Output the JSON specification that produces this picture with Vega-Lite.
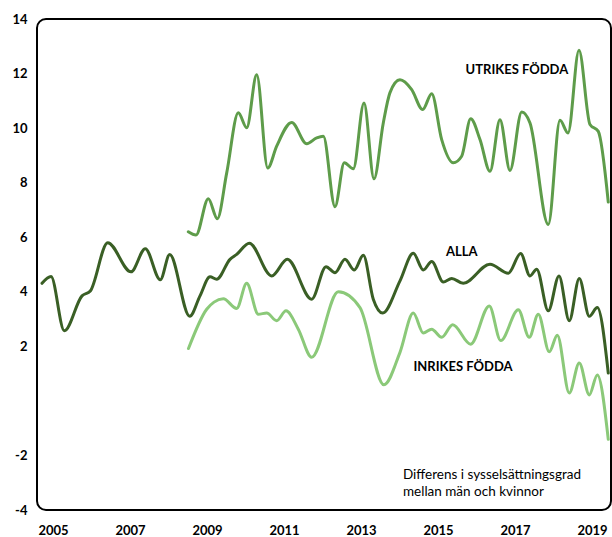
{
  "$schema": "https://vega.github.io/schema/vega-lite/v6.json",
  "autosize": {"type": "none"},
  "width": 574,
  "height": 491,
  "padding": {"left": 37, "top": 19, "right": 1, "bottom": 27},
  "config": {
    "view": {"stroke": "#000000", "strokeWidth": 2, "cornerRadius": 9},
    "font": "Lato",
    "axis": {"grid": false, "ticks": false, "domain": false, "labelFont": "Lato", "labelFontWeight": "bold", "labelFontSize": 13, "labelColor": "#000000", "title": null}
  },
  "datasets": {
    "series": [
      {"serie": "ALLA", "t": 2004.714, "v": 4.31},
      {"serie": "ALLA", "t": 2004.948, "v": 4.56},
      {"serie": "ALLA", "t": 2005.294, "v": 2.57},
      {"serie": "ALLA", "t": 2005.753, "v": 3.85},
      {"serie": "ALLA", "t": 2005.969, "v": 4.03},
      {"serie": "ALLA", "t": 2006.421, "v": 5.80},
      {"serie": "ALLA", "t": 2007.026, "v": 4.73},
      {"serie": "ALLA", "t": 2007.397, "v": 5.58},
      {"serie": "ALLA", "t": 2007.787, "v": 4.44},
      {"serie": "ALLA", "t": 2008.031, "v": 5.37},
      {"serie": "ALLA", "t": 2008.551, "v": 3.10},
      {"serie": "ALLA", "t": 2008.818, "v": 3.85},
      {"serie": "ALLA", "t": 2009.078, "v": 4.55},
      {"serie": "ALLA", "t": 2009.252, "v": 4.46},
      {"serie": "ALLA", "t": 2009.597, "v": 5.19},
      {"serie": "ALLA", "t": 2009.771, "v": 5.37},
      {"serie": "ALLA", "t": 2010.099, "v": 5.78},
      {"serie": "ALLA", "t": 2010.681, "v": 4.58},
      {"serie": "ALLA", "t": 2011.086, "v": 5.19},
      {"serie": "ALLA", "t": 2011.719, "v": 3.73},
      {"serie": "ALLA", "t": 2012.091, "v": 4.92},
      {"serie": "ALLA", "t": 2012.325, "v": 4.70},
      {"serie": "ALLA", "t": 2012.584, "v": 5.19},
      {"serie": "ALLA", "t": 2012.826, "v": 4.80},
      {"serie": "ALLA", "t": 2013.060, "v": 5.34},
      {"serie": "ALLA", "t": 2013.319, "v": 3.73},
      {"serie": "ALLA", "t": 2013.564, "v": 3.22},
      {"serie": "ALLA", "t": 2014.013, "v": 4.40},
      {"serie": "ALLA", "t": 2014.358, "v": 5.41},
      {"serie": "ALLA", "t": 2014.618, "v": 4.80},
      {"serie": "ALLA", "t": 2014.836, "v": 5.11},
      {"serie": "ALLA", "t": 2015.138, "v": 4.36},
      {"serie": "ALLA", "t": 2015.356, "v": 4.49},
      {"serie": "ALLA", "t": 2015.657, "v": 4.31},
      {"serie": "ALLA", "t": 2016.351, "v": 5.01},
      {"serie": "ALLA", "t": 2016.826, "v": 4.68},
      {"serie": "ALLA", "t": 2017.148, "v": 5.40},
      {"serie": "ALLA", "t": 2017.390, "v": 4.58},
      {"serie": "ALLA", "t": 2017.564, "v": 4.83},
      {"serie": "ALLA", "t": 2017.865, "v": 3.30},
      {"serie": "ALLA", "t": 2018.143, "v": 4.58},
      {"serie": "ALLA", "t": 2018.410, "v": 2.94},
      {"serie": "ALLA", "t": 2018.670, "v": 4.49},
      {"serie": "ALLA", "t": 2018.930, "v": 3.10},
      {"serie": "ALLA", "t": 2019.138, "v": 3.42},
      {"serie": "ALLA", "t": 2019.423, "v": 1.02},

      {"serie": "INRIKES", "t": 2008.519, "v": 1.92},
      {"serie": "INRIKES", "t": 2008.992, "v": 3.36},
      {"serie": "INRIKES", "t": 2009.182, "v": 3.62},
      {"serie": "INRIKES", "t": 2009.423, "v": 3.74},
      {"serie": "INRIKES", "t": 2009.771, "v": 3.39},
      {"serie": "INRIKES", "t": 2010.031, "v": 4.31},
      {"serie": "INRIKES", "t": 2010.332, "v": 3.18},
      {"serie": "INRIKES", "t": 2010.551, "v": 3.22},
      {"serie": "INRIKES", "t": 2010.810, "v": 2.94},
      {"serie": "INRIKES", "t": 2011.052, "v": 3.30},
      {"serie": "INRIKES", "t": 2011.371, "v": 2.63},
      {"serie": "INRIKES", "t": 2011.719, "v": 1.60},
      {"serie": "INRIKES", "t": 2012.410, "v": 4.00},
      {"serie": "INRIKES", "t": 2012.974, "v": 3.42},
      {"serie": "INRIKES", "t": 2013.597, "v": 0.59},
      {"serie": "INRIKES", "t": 2014.013, "v": 1.78},
      {"serie": "INRIKES", "t": 2014.358, "v": 3.22},
      {"serie": "INRIKES", "t": 2014.618, "v": 2.49},
      {"serie": "INRIKES", "t": 2014.836, "v": 2.63},
      {"serie": "INRIKES", "t": 2015.096, "v": 2.33},
      {"serie": "INRIKES", "t": 2015.382, "v": 2.79},
      {"serie": "INRIKES", "t": 2015.849, "v": 2.08},
      {"serie": "INRIKES", "t": 2016.332, "v": 3.48},
      {"serie": "INRIKES", "t": 2016.629, "v": 2.21},
      {"serie": "INRIKES", "t": 2017.086, "v": 3.34},
      {"serie": "INRIKES", "t": 2017.371, "v": 2.33},
      {"serie": "INRIKES", "t": 2017.605, "v": 3.18},
      {"serie": "INRIKES", "t": 2017.891, "v": 1.80},
      {"serie": "INRIKES", "t": 2018.099, "v": 2.41},
      {"serie": "INRIKES", "t": 2018.410, "v": 0.29},
      {"serie": "INRIKES", "t": 2018.670, "v": 1.39},
      {"serie": "INRIKES", "t": 2018.930, "v": 0.22},
      {"serie": "INRIKES", "t": 2019.138, "v": 0.95},
      {"serie": "INRIKES", "t": 2019.423, "v": -1.41},

      {"serie": "UTRIKES", "t": 2008.514, "v": 6.20},
      {"serie": "UTRIKES", "t": 2008.714, "v": 6.08},
      {"serie": "UTRIKES", "t": 2009.034, "v": 7.41},
      {"serie": "UTRIKES", "t": 2009.268, "v": 6.68},
      {"serie": "UTRIKES", "t": 2009.512, "v": 8.36},
      {"serie": "UTRIKES", "t": 2009.813, "v": 10.56},
      {"serie": "UTRIKES", "t": 2010.031, "v": 10.01},
      {"serie": "UTRIKES", "t": 2010.291, "v": 11.96},
      {"serie": "UTRIKES", "t": 2010.577, "v": 8.54},
      {"serie": "UTRIKES", "t": 2010.810, "v": 9.34},
      {"serie": "UTRIKES", "t": 2011.200, "v": 10.21},
      {"serie": "UTRIKES", "t": 2011.590, "v": 9.43},
      {"serie": "UTRIKES", "t": 2011.849, "v": 9.64},
      {"serie": "UTRIKES", "t": 2012.021, "v": 9.70},
      {"serie": "UTRIKES", "t": 2012.325, "v": 7.12},
      {"serie": "UTRIKES", "t": 2012.566, "v": 8.73},
      {"serie": "UTRIKES", "t": 2012.800, "v": 8.51},
      {"serie": "UTRIKES", "t": 2013.078, "v": 10.92},
      {"serie": "UTRIKES", "t": 2013.338, "v": 8.14},
      {"serie": "UTRIKES", "t": 2013.579, "v": 10.19},
      {"serie": "UTRIKES", "t": 2013.753, "v": 11.30},
      {"serie": "UTRIKES", "t": 2014.013, "v": 11.77},
      {"serie": "UTRIKES", "t": 2014.317, "v": 11.41},
      {"serie": "UTRIKES", "t": 2014.603, "v": 10.68},
      {"serie": "UTRIKES", "t": 2014.836, "v": 11.26},
      {"serie": "UTRIKES", "t": 2015.096, "v": 9.58},
      {"serie": "UTRIKES", "t": 2015.397, "v": 8.73},
      {"serie": "UTRIKES", "t": 2015.615, "v": 8.97},
      {"serie": "UTRIKES", "t": 2015.849, "v": 10.34},
      {"serie": "UTRIKES", "t": 2016.091, "v": 9.58},
      {"serie": "UTRIKES", "t": 2016.351, "v": 8.42},
      {"serie": "UTRIKES", "t": 2016.610, "v": 10.31},
      {"serie": "UTRIKES", "t": 2016.870, "v": 8.45},
      {"serie": "UTRIKES", "t": 2017.174, "v": 10.59},
      {"serie": "UTRIKES", "t": 2017.390, "v": 10.19},
      {"serie": "UTRIKES", "t": 2017.865, "v": 6.47},
      {"serie": "UTRIKES", "t": 2018.169, "v": 10.29},
      {"serie": "UTRIKES", "t": 2018.377, "v": 9.82},
      {"serie": "UTRIKES", "t": 2018.662, "v": 12.85},
      {"serie": "UTRIKES", "t": 2018.948, "v": 10.13},
      {"serie": "UTRIKES", "t": 2019.164, "v": 9.88},
      {"serie": "UTRIKES", "t": 2019.423, "v": 7.29}
    ],
    "labels": [
      {"text": "UTRIKES FÖDDA", "t": 2017.05, "v": 12.14},
      {"text": "ALLA", "t": 2015.62, "v": 5.45},
      {"text": "INRIKES FÖDDA", "t": 2015.65, "v": 1.24}
    ],
    "notes": [
      {"text": "Differens i sysselsättningsgrad", "t": 2014.09, "v": -2.71},
      {"text": "mellan män och kvinnor", "t": 2014.09, "v": -3.33}
    ]
  },
  "layer": [
    {
      "mark": {"type": "rule", "color": "#000000", "strokeWidth": 1.5},
      "encoding": {"y": {"datum": 0, "type": "quantitative", "scale": {"domain": [-4, 14], "nice": false}}}
    },
    {
      "data": {"name": "series"},
      "mark": {"type": "line", "interpolate": "monotone", "strokeWidth": 3, "strokeCap": "round", "strokeJoin": "round"},
      "encoding": {
        "x": {"field": "t", "type": "quantitative", "scale": {"domain": [2004.584, 2019.494], "nice": false, "zero": false},
              "axis": {"values": [2005, 2007, 2009, 2011, 2013, 2015, 2017, 2019], "format": "d", "labelPadding": 14}},
        "y": {"field": "v", "type": "quantitative", "scale": {"domain": [-4, 14], "nice": false},
              "axis": {"values": [-4, -2, 2, 4, 6, 8, 10, 12, 14], "labelPadding": 10,
                       "labelExpr": "datum.value < 0 ? '-' + abs(datum.value) : '' + datum.value"}},
        "color": {"field": "serie", "type": "nominal", "scale": {"domain": ["ALLA", "UTRIKES", "INRIKES"], "range": ["#3a5f25", "#5e9c4a", "#8bc979"]}, "legend": null},
        "detail": {"field": "serie"}
      }
    },
    {
      "data": {"name": "labels"},
      "mark": {"type": "text", "font": "Lato", "fontWeight": "bold", "fontSize": 13, "align": "center", "baseline": "middle", "color": "#000000"},
      "encoding": {
        "x": {"field": "t", "type": "quantitative"},
        "y": {"field": "v", "type": "quantitative"},
        "text": {"field": "text"}
      }
    },
    {
      "data": {"name": "notes"},
      "mark": {"type": "text", "font": "Lato", "fontSize": 13.5, "align": "left", "baseline": "middle", "color": "#000000"},
      "encoding": {
        "x": {"field": "t", "type": "quantitative"},
        "y": {"field": "v", "type": "quantitative"},
        "text": {"field": "text"}
      }
    }
  ]
}
